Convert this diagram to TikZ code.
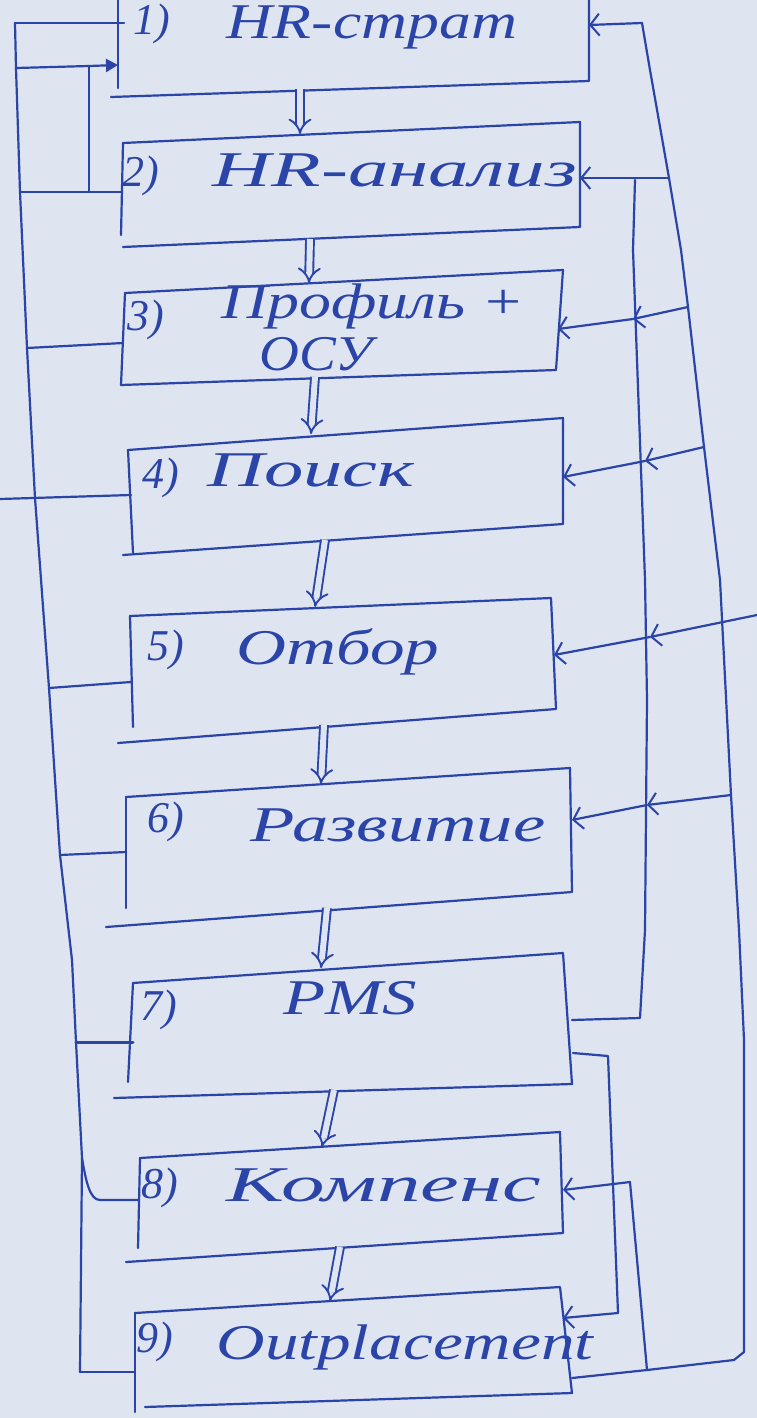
\documentclass[tikz,border=0pt]{standalone}
\usepackage{fontspec}
\setmainfont{Liberation Serif}
\usepackage{graphicx}
\usetikzlibrary{arrows.meta}
\definecolor{paper}{RGB}{222,228,240}
\definecolor{ink}{RGB}{42,68,168}
% stretch a handwritten-style word to a given width, keeping its height
\newcommand{\hand}[2]{\resizebox{#1pt}{\height}{#2}}

\begin{document}
\begin{tikzpicture}[x=1pt,y=-1pt,
  pen/.style={draw=ink, line width=2.2pt, line cap=round, line join=round},
  txt/.style={text=ink, font=\fontsize{50}{54}\selectfont\itshape, inner sep=0pt, anchor=center},
  numtxt/.style={text=ink, font=\fontsize{44}{48}\selectfont\itshape, inner sep=0pt, anchor=center},
  flow/.style={draw=ink, line width=1.9pt, double=paper, double distance=6pt,
    -{Implies[length=13pt,width=28pt]}},
  feed/.style={pen, -{Straight Barb[length=9pt,width=22pt,line width=2pt]}},
  push/.style={pen, -{Triangle[length=12pt,width=13pt]}}]

\useasboundingbox (0,0) rectangle (757,1418);
\fill[paper] (0,0) rectangle (757,1418);

% ---------- boxes (corner coordinates) ----------
\coordinate (b1tl) at (118,-5);  \coordinate (b1tr) at (589,-5);
\coordinate (b1br) at (589,81);  \coordinate (b1be) at (111,97);  \coordinate (b1lb) at (118,88);
\coordinate (b2tl) at (123,143); \coordinate (b2tr) at (580,122);
\coordinate (b2br) at (580,227); \coordinate (b2be) at (123,247); \coordinate (b2lb) at (121,235);
\coordinate (b3tl) at (125,293); \coordinate (b3tr) at (563,270);
\coordinate (b3br) at (556,370); \coordinate (b3be) at (121,385); \coordinate (b3lb) at (121,385);
\coordinate (b4tl) at (128,450); \coordinate (b4tr) at (563,418);
\coordinate (b4br) at (563,524); \coordinate (b4be) at (123,555); \coordinate (b4lb) at (133,553);
\coordinate (b5tl) at (130,616); \coordinate (b5tr) at (551,598);
\coordinate (b5br) at (556,709); \coordinate (b5be) at (118,743); \coordinate (b5lb) at (133,727);
\coordinate (b6tl) at (126,797); \coordinate (b6tr) at (570,768);
\coordinate (b6br) at (572,892); \coordinate (b6be) at (106,927); \coordinate (b6lb) at (126,908);
\coordinate (b7tl) at (133,983); \coordinate (b7tr) at (563,953);
\coordinate (b7br) at (572,1084); \coordinate (b7be) at (114,1098); \coordinate (b7lb) at (128,1082);
\coordinate (b8tl) at (140,1158); \coordinate (b8tr) at (560,1132);
\coordinate (b8br) at (563,1233); \coordinate (b8be) at (126,1262); \coordinate (b8lb) at (138,1248);
\coordinate (b9tl) at (135,1313); \coordinate (b9tr) at (560,1287);
\coordinate (b9br) at (572,1393); \coordinate (b9be) at (145,1407); \coordinate (b9lb) at (135,1412);

\foreach \b in {1,...,9}{
  \draw[pen] (b\b tl) -- (b\b lb);
  \draw[pen] (b\b tl) -- (b\b tr) -- (b\b br) -- (b\b be);
}

% ---------- labels ----------
\node[numtxt] (n1) at (152,24)   {1)};
\node[txt]    (t1) at (372,27)   {\hand{290}{HR-страт}};
\node[numtxt] (n2) at (141,176)  {2)};
\node[txt]    (t2) at (395,170)  {\hand{364}{HR-анализ}};
\node[numtxt] (n3) at (146,320)  {3)};
\node[txt]    (t3) at (373,306)  {\hand{303}{Профиль +}};
\node[txt]    (t3b) at (316,354) {\hand{113}{ОСУ}};
\node[numtxt] (n4) at (161,478)  {4)};
\node[txt]    (t4) at (311,470)  {\hand{207}{Поиск}};
\node[numtxt] (n5) at (166,650)  {5)};
\node[txt]    (t5) at (338,652)  {\hand{203}{Отбор}};
\node[numtxt] (n6) at (166,822)  {6)};
\node[txt]    (t6) at (398,825)  {\hand{295}{Развитие}};
\node[numtxt] (n7) at (159,1010) {7)};
\node[txt]    (t7) at (350,998)  {\hand{134}{PMS}};
\node[numtxt] (n8) at (160,1188) {8)};
\node[txt]    (t8) at (384,1185) {\hand{314}{Компенс}};
\node[numtxt] (n9) at (155,1342) {9)};
\node[txt]    (t9) at (405,1347) {\hand{377}{Outplacement}};

% ---------- main flow, top to bottom ----------
\coordinate (s1) at (300,89);   \coordinate (e2) at (300,134);
\coordinate (s2) at (310,239);  \coordinate (e3) at (309,283);
\coordinate (s3) at (315,377);  \coordinate (e4) at (311,434);
\coordinate (s4) at (325,540);  \coordinate (e5) at (315,607);
\coordinate (s5) at (324,725);  \coordinate (e6) at (321,784);
\coordinate (s6) at (327,908);  \coordinate (e7) at (321,968);
\coordinate (s7) at (334,1090); \coordinate (e8) at (322,1147);
\coordinate (s8) at (340,1247); \coordinate (e9) at (330,1301);
\draw[flow] (s1) -- (e2);
\draw[flow] (s2) -- (e3);
\draw[flow] (s3) -- (e4);
\draw[flow] (s4) -- (e5);
\draw[flow] (s5) -- (e6);
\draw[flow] (s6) -- (e7);
\draw[flow] (s7) -- (e8);
\draw[flow] (s8) -- (e9);

% ---------- left bus ----------
\coordinate (L0) at (15,23);   \coordinate (L1) at (16,68);
\coordinate (L2) at (20,192);  \coordinate (L3) at (27,348);
\coordinate (L4) at (35,498);  \coordinate (L5) at (49,688);
\coordinate (L6) at (60,855);  \coordinate (Lm) at (72,960);
\coordinate (L7) at (76,1042); \coordinate (L8) at (82,1158);
\coordinate (L9) at (80,1372);
\draw[pen] (L0) -- (L1) -- (L2) -- (L3) -- (L4) -- (L5) -- (L6) -- (Lm) -- (L7) -- (L8) -- (L9);

\coordinate (in1) at (124,23);
\draw[pen] (L0) -- (in1);
\coordinate (k1) at (89,66); \coordinate (k2) at (89,192);
\coordinate (in1b) at (118,65);
\draw[pen] (L1) -- (k1);
\draw[pen] (k2) -- (k1);
\draw[push] (k1) -- (in1b);
\coordinate (out2) at (121,192);
\draw[pen] (L2) -- (out2);
\coordinate (out3) at (123,343);
\draw[pen] (L3) -- (out3);
\coordinate (out4) at (131,495); \coordinate (edge4) at (0,499);
\draw[pen] (edge4) -- (out4);
\coordinate (out5) at (131,682);
\draw[pen] (L5) -- (out5);
\coordinate (out6) at (126,852);
\draw[pen] (L6) -- (out6);
\coordinate (out7) at (133,1042);
\draw[pen, line width=3pt] (L7) -- (out7);
\coordinate (out8) at (138,1200);
\draw[pen] (L8) .. controls (86,1182) and (90,1200) .. (100,1200) -- (out8);
\coordinate (out9) at (135,1372);
\draw[pen] (L9) -- (out9);

% ---------- right outer bus ----------
\coordinate (A0) at (642,23);  \coordinate (Aa) at (650,70);
\coordinate (A2) at (669,178); \coordinate (Ab) at (681,250);
\coordinate (A3) at (688,307); \coordinate (A4) at (704,447);
\coordinate (Ac) at (720,580); \coordinate (A6) at (731,795);
\coordinate (Ad) at (739,930); \coordinate (Ae) at (744,1040);
\coordinate (A9) at (744,1352);
\draw[pen] (A0) -- (Aa) -- (A2) -- (Ab) -- (A3) -- (A4) -- (Ac) -- (A6) -- (Ad) -- (Ae) -- (A9);

\draw[feed] (A0) -- (589,25);
\draw[feed] (A2) -- (580,178);

% ---------- right inner bus ----------
\coordinate (B0) at (635,180); \coordinate (Ba) at (633,250);
\coordinate (Bb) at (645,580); \coordinate (Bc) at (647,700);
\coordinate (Bd) at (645,930); \coordinate (B7) at (640,1018);
\coordinate (in7) at (572,1020);
\draw[pen] (B0) -- (Ba) -- (Bb) -- (Bc) -- (Bd) -- (B7) -- (in7);

% feeds into boxes 3--6, each marked where it crosses the inner bus
\coordinate (X3) at (633,319); \coordinate (in3) at (558,329);
\draw[feed] (A3) -- (X3); \draw[feed] (X3) -- (in3);
\coordinate (X4) at (645,461); \coordinate (in4) at (563,477);
\draw[feed] (A4) -- (X4); \draw[feed] (X4) -- (in4);
\coordinate (edge5) at (757,615); \coordinate (X5) at (650,637); \coordinate (in5) at (554,655);
\draw[feed] (edge5) -- (X5); \draw[feed] (X5) -- (in5);
\coordinate (X6) at (647,805); \coordinate (in6) at (572,820);
\draw[feed] (A6) -- (X6); \draw[feed] (X6) -- (in6);

% ---------- lower loops ----------
\coordinate (o7) at (573,1053); \coordinate (r7) at (608,1056);
\coordinate (r9) at (618,1313); \coordinate (in9) at (563,1318);
\draw[pen] (o7) -- (r7) -- (r9);
\draw[feed] (r9) -- (in9);

\coordinate (o9) at (572,1378); \coordinate (j9) at (647,1370);
\coordinate (Af) at (734,1360);
\draw[pen] (o9) -- (j9) -- (Af) -- (A9);
\coordinate (r8) at (630,1182); \coordinate (in8) at (563,1190);
\draw[pen] (j9) -- (r8);
\draw[feed] (r8) -- (in8);
\end{tikzpicture}
\end{document}
